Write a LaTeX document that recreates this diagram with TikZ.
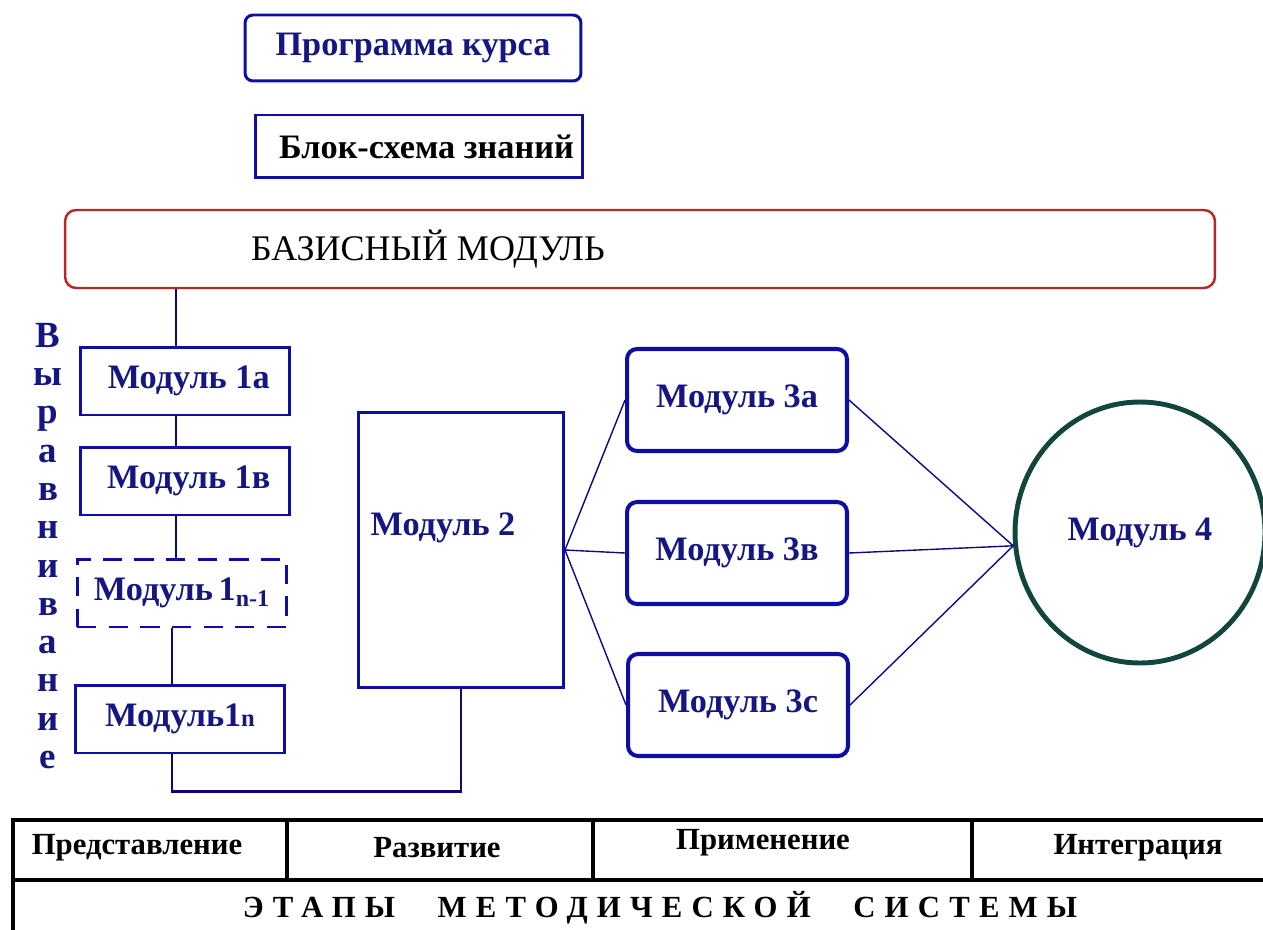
\documentclass[tikz,border=0pt]{standalone}
\usepackage{fontspec}
\setmainfont{Liberation Serif}
\usetikzlibrary{shapes.geometric}
\definecolor{modblue}{RGB}{14,14,165}
\definecolor{txtblue}{RGB}{22,22,130}
\definecolor{basered}{RGB}{185,40,40}
\definecolor{circgreen}{RGB}{18,70,60}
\newcommand{\modfont}{\fontsize{19.5}{21}\selectfont\bfseries}
\tikzset{
  modbox/.style={draw=modblue, line width=1.7pt, minimum width=4.2cm,
    minimum height=1.36cm, font=\modfont, text=txtblue, inner sep=0pt},
  roundbox/.style={modbox, rounded corners=0.2cm, line width=2.3pt,
    minimum width=4.4cm, minimum height=2.04cm},
  spine/.style={draw=modblue!70!black, line width=1.2pt},
  fan/.style={draw=modblue!80!black, line width=0.8pt},
  tabline/.style={draw=black, line width=2.3pt},
  stagetxt/.style={font=\fontsize{17.5}{19}\selectfont\bfseries, inner sep=0pt},
}

\begin{document}
\begin{tikzpicture}[x=0.02cm, y=-0.02cm]
\useasboundingbox (0,0) rectangle (1263,929);
\clip (0,0) rectangle (1263,929);

% top boxes
\node[modbox, rounded corners=0.16cm, minimum width=6.72cm, minimum height=1.32cm]
  (prog) at (413,48) {Программа курса};
\node[modbox, text=black, minimum width=6.56cm, minimum height=1.26cm]
  (blok) at (419,146.5) {\hspace{0.3cm}Блок-схема знаний};
\node[draw=basered, line width=1.4pt, rounded corners=0.22cm,
  minimum width=23cm, minimum height=1.56cm,
  label={[font=\fontsize{20.5}{22}\selectfont, xshift=-4.24cm]center:БАЗИСНЫЙ МОДУЛЬ}]
  (baz) at (640,249) {};

% levelling column
\node[font=\fontsize{21}{21.8}\selectfont\bfseries, text=txtblue, align=center, inner sep=0pt]
  (vyr) at (48,546) {В\\ы\\р\\а\\в\\н\\и\\в\\а\\н\\и\\е};
\node[modbox] (m1a) at (185,381) {\hspace{0.15cm}Модуль 1а};
\node[modbox] (m1b) at (185,481) {\hspace{0.15cm}Модуль 1в};
\node[modbox, dash pattern=on 11pt off 7pt] (m1n1) at (182,593)
  {Модуль\,1\textsubscript{n-1}};
\node[modbox] (m1n) at (180,719)
  {Модуль1{\fontsize{14}{14}\selectfont n}};

\coordinate (sp) at (176,0);
\coordinate (spb) at (172,0);
\draw[spine] (baz.south -| sp) -- (m1a.north -| sp);
\draw[spine] (m1a.south -| sp) -- (m1b.north -| sp);
\draw[spine] (m1b.south -| sp) -- (m1n1.north -| sp);
\draw[spine] (m1n1.south -| spb) -- (m1n.north -| spb);

% module 2 and branches
\node[modbox, minimum width=4.1cm, minimum height=5.5cm,
  label={[font=\modfont, text=txtblue, xshift=-0.36cm, yshift=0.45cm]center:Модуль 2}]
  (m2) at (461,550) {};
\draw[spine] (m1n.south -| spb) -- ++(0,37) -| (m2.south);

\node[roundbox] (m3a) at (737,400) {Модуль 3а};
\node[roundbox] (m3b) at (737,553) {Модуль 3в};
\node[roundbox] (m3c) at (738,705) {Модуль 3с};
\node[ellipse, draw=circgreen, line width=2.8pt, minimum width=5cm,
  minimum height=5.22cm, font=\modfont, text=txtblue] (m4) at (1140,532.5) {Модуль 4};
\coordinate (join) at (m4.186);

\foreach \m in {m3a,m3b,m3c} {
  \draw[fan] (m2.east) -- (\m.west);
  \draw[fan] (\m.east) -- (join);
}

% stages table
\draw[tabline] (13,820) rectangle (1300,970);
\draw[tabline] (13,880) -- (1300,880);
\foreach \x in {287,593,972}
  \draw[tabline] (\x,820) -- (\x,880);
\node[stagetxt] (st1) at (137,848) {Представление};
\node[stagetxt] (st2) at (437,848) {Развитие};
\node[stagetxt] (st3) at (763,843) {Применение};
\node[stagetxt] (st4) at (1138,848) {Интеграция};
\node[stagetxt, font=\fontsize{17.5}{19}\selectfont\bfseries\addfontfeature{LetterSpace=30}]
  (stages) at (660,908) {ЭТАПЫ\hspace{0.85cm}МЕТОДИЧЕСКОЙ\hspace{0.85cm}СИСТЕМЫ};
\end{tikzpicture}
\end{document}
